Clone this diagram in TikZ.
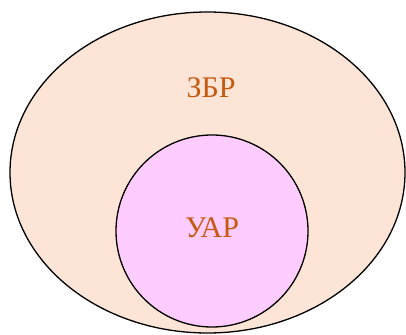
\documentclass[tikz,border=0pt]{standalone}
\usepackage{fontspec}
\setmainfont{Liberation Serif}
\usepackage{xcolor}
\definecolor{setfill}{RGB}{252,228,214}
\definecolor{subfill}{RGB}{255,204,255}
\definecolor{labelcol}{RGB}{197,90,17}
\tikzset{setlabel/.style={text=labelcol,font=\fontsize{30}{36}\selectfont}}

\begin{document}
\begin{tikzpicture}[x=1pt,y=1pt]
\useasboundingbox (0,0) rectangle (406,334);
\draw[line width=1.3pt,fill=setfill] (207.5,161.5) ellipse (197.5 and 160.5);
\draw[line width=1.3pt,fill=subfill] (212,103) circle (96);
\node[setlabel] (zbr) at (211,246) {ЗБР};
\node[setlabel] (uar) at (212,106) {УАР};
\end{tikzpicture}
\end{document}
